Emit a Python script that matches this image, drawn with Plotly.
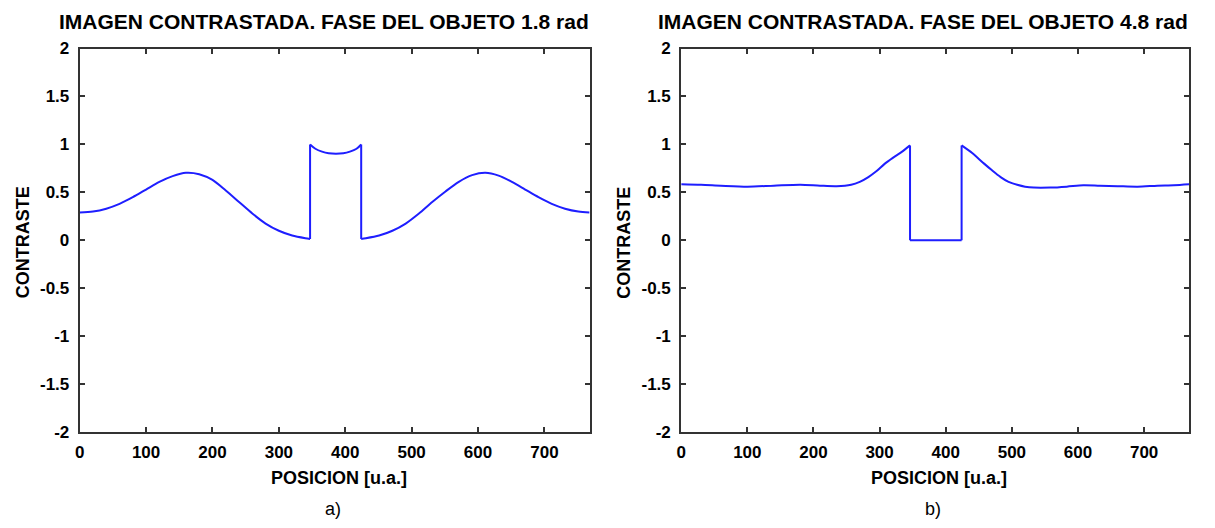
import plotly.graph_objects as go

# Panel a) : phase 1.8 rad
xa = [0, 20, 40, 60, 80, 100, 120, 140, 160, 180, 200, 220, 240, 260, 280, 300, 320, 340, 347,
      347, 355, 365, 375, 386, 397, 407, 417, 424,
      424, 431, 451, 471, 491, 511, 531, 551, 571, 591, 611, 631, 651, 671, 691, 711, 731, 751, 768]
ya = [0.29, 0.30, 0.33, 0.38, 0.45, 0.53, 0.61, 0.67, 0.705, 0.69, 0.63, 0.52, 0.40, 0.28, 0.175, 0.10, 0.05, 0.022, 0.015,
      1.0, 0.955, 0.925, 0.908, 0.903, 0.908, 0.925, 0.955, 1.0,
      0.015, 0.022, 0.05, 0.10, 0.175, 0.28, 0.40, 0.51, 0.61, 0.68, 0.705, 0.675, 0.61, 0.53, 0.45, 0.38, 0.33, 0.30, 0.29]

# Panel b) : phase 4.8 rad
xb = [0, 30, 60, 100, 140, 180, 210, 235, 257, 270, 283, 295, 308, 320, 333, 346,
      346, 424,
      424, 440, 458, 470, 483, 495, 508, 520, 533, 558, 583, 608, 633, 660, 690, 720, 745, 768]
yb = [0.585, 0.58, 0.57, 0.56, 0.57, 0.58, 0.57, 0.565, 0.58, 0.61, 0.66, 0.72, 0.80, 0.86, 0.92, 0.99,
      0.0, 0.0,
      0.99, 0.91, 0.80, 0.73, 0.66, 0.61, 0.58, 0.56, 0.55, 0.55, 0.56, 0.575, 0.57, 0.565, 0.56, 0.57, 0.575, 0.585]

titles = ["IMAGEN CONTRASTADA. FASE DEL OBJETO 1.8 rad", "IMAGEN CONTRASTADA. FASE DEL OBJETO 4.8 rad"]
panel_labels = ["a)", "b)"]
x_ticks = [0, 100, 200, 300, 400, 500, 600, 700]
y_ticks = [-2, -1.5, -1, -0.5, 0, 0.5, 1, 1.5, 2]
y_tick_text = ["-2", "-1.5", "-1", "-0.5", "0", "0.5", "1", "1.5", "2"]

W, H = 1215, 528
FONT = "Liberation Sans, Arial, sans-serif"
LINE = "rgb(30,30,255)"
AX = "#333333"

# pixel geometry of the two plot areas
boxes = [(75, 587, 41, 439), (679, 1189, 41, 439)]


def split_pieces(xs, ys):
    """Split a polyline at vertical jumps (repeated x): smooth pieces + jump segments."""
    pieces, jumps = [], []
    cur_x, cur_y = [xs[0]], [ys[0]]
    for i in range(1, len(xs)):
        if xs[i] == xs[i - 1]:
            pieces.append((cur_x, cur_y))
            jumps.append(([xs[i - 1], xs[i]], [ys[i - 1], ys[i]]))
            cur_x, cur_y = [xs[i]], [ys[i]]
        else:
            cur_x.append(xs[i])
            cur_y.append(ys[i])
    pieces.append((cur_x, cur_y))
    return pieces, jumps


fig = go.Figure()
for (xs, ys), ax in [((xa, ya), ("x", "y")), ((xb, yb), ("x2", "y2"))]:
    pieces, jumps = split_pieces(xs, ys)
    for px, py in pieces:
        fig.add_trace(go.Scatter(x=px, y=py, mode="lines",
                                 line=dict(color=LINE, width=2, shape="spline", smoothing=0.8),
                                 xaxis=ax[0], yaxis=ax[1], showlegend=False, hoverinfo="skip"))
    for jx, jy in jumps:
        fig.add_trace(go.Scatter(x=jx, y=jy, mode="lines", line=dict(color=LINE, width=2),
                                 xaxis=ax[0], yaxis=ax[1], showlegend=False, hoverinfo="skip"))

tickfont = dict(family=FONT, size=17, color="black", weight="bold")
layout = dict(width=W, height=H, margin=dict(l=0, r=0, t=0, b=0),
              paper_bgcolor="white", plot_bgcolor="white", showlegend=False)
annotations = []
for i, (x0, x1, y0, y1) in enumerate(boxes):
    sfx = "" if i == 0 else str(i + 1)
    xd = [x0 / W, x1 / W]
    yd = [1 - y1 / H, 1 - y0 / H]
    layout["xaxis" + sfx] = dict(domain=xd, range=[0, 768], tickvals=x_ticks,
                                 ticks="inside", ticklen=5, tickwidth=1.5, tickcolor=AX,
                                 showline=True, linecolor=AX, linewidth=2, mirror="allticks",
                                 showgrid=False, zeroline=False, tickfont=tickfont,
                                 ticklabelstandoff=3,
                                 anchor="y" + sfx, fixedrange=True)
    layout["yaxis" + sfx] = dict(domain=yd, range=[-2, 2], tickvals=y_ticks, ticktext=y_tick_text,
                                 ticks="inside", ticklen=5, tickwidth=1.5, tickcolor=AX,
                                 showline=True, linecolor=AX, linewidth=2, mirror="allticks",
                                 showgrid=False, zeroline=False, tickfont=tickfont,
                                 ticklabelstandoff=5,
                                 anchor="x" + sfx, fixedrange=True)
    cx = (x0 + x1) / 2
    annotations.append(dict(text="<b>" + titles[i] + "</b>", x=(x1 + 1) / W, y=1 - 13 / H,
                            xref="paper", yref="paper", xanchor="right", yanchor="middle",
                            showarrow=False, font=dict(family=FONT, size=21, color="black")))
    annotations.append(dict(text="<b>POSICION [u.a.]</b>", x=(cx + 4) / W, y=1 - 486 / H,
                            xref="paper", yref="paper", xanchor="center", yanchor="middle",
                            showarrow=False, font=dict(family=FONT, size=18, color="black")))
    annotations.append(dict(text="<b>CONTRASTE</b>", x=(x0 - 57) / W, y=1 - 242 / H,
                            xref="paper", yref="paper", xanchor="center", yanchor="middle",
                            textangle=-90, showarrow=False,
                            font=dict(family=FONT, size=18, color="black")))
    annotations.append(dict(text=panel_labels[i], x=(cx - 2) / W, y=1 - 519 / H,
                            xref="paper", yref="paper", xanchor="center", yanchor="middle",
                            showarrow=False, font=dict(family=FONT, size=18, color="black")))
layout["annotations"] = annotations
fig.update_layout(**layout)
fig.write_html("out.html")
